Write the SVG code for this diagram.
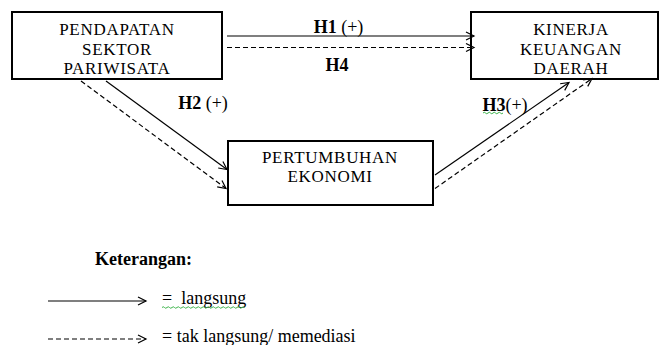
<svg xmlns="http://www.w3.org/2000/svg" width="660" height="345" viewBox="0 0 660 345">
<style>
.box{fill:#fff;stroke:#000;stroke-width:2}
.t{font-family:"Liberation Serif","Times New Roman",serif;font-size:17px;fill:#000;letter-spacing:0.7px}
.lbl{font-family:"Liberation Serif","Times New Roman",serif;font-size:18px;fill:#000;font-weight:bold}
.leg{font-family:"Liberation Serif","Times New Roman",serif;font-size:18px;fill:#000;white-space:pre}
.solid{fill:none;stroke:#000;stroke-width:1.2;marker-end:url(#arr)}
.dash{fill:none;stroke:#000;stroke-width:1.2;stroke-dasharray:5,3;marker-end:url(#arr)}
.sq{fill:none;stroke:#3cb34a;stroke-width:1}
</style>
<defs>
<marker id="arr" markerUnits="userSpaceOnUse" markerWidth="12" markerHeight="12" refX="9" refY="5" orient="auto">
<path d="M1,1 L9,5 L1,9" fill="none" stroke="#000" stroke-width="1.2"/>
</marker>
</defs>

<g id="node-pendapatan">
<rect class="box" x="12" y="12" width="210" height="67"/>
<text class="t" x="117" y="35" text-anchor="middle">PENDAPATAN</text>
<text class="t" x="117" y="54.5" text-anchor="middle">SEKTOR</text>
<text class="t" x="117" y="74" text-anchor="middle">PARIWISATA</text>
</g>

<g id="node-kinerja">
<rect class="box" x="471" y="12" width="187" height="67"/>
<text class="t" x="571" y="35" text-anchor="middle">KINERJA</text>
<text class="t" x="571" y="54.5" text-anchor="middle">KEUANGAN</text>
<text class="t" x="571" y="74" text-anchor="middle">DAERAH</text>
</g>

<g id="node-pertumbuhan">
<rect class="box" x="228" y="141" width="205" height="64"/>
<text class="t" x="330" y="163" text-anchor="middle">PERTUMBUHAN</text>
<text class="t" x="330" y="182" text-anchor="middle">EKONOMI</text>
</g>

<g id="connectors">
<line class="solid" x1="227" y1="36" x2="474" y2="36"/>
<line class="dash" x1="227" y1="47.5" x2="474" y2="47.5"/>
<line class="solid" x1="106" y1="81" x2="227" y2="169.5"/>
<line class="dash" x1="81" y1="81" x2="226" y2="188.5"/>
<line class="solid" x1="435" y1="175" x2="569" y2="82.5"/>
<line class="dash" x1="435" y1="188.5" x2="592" y2="78.5"/>
</g>

<g id="labels">
<text class="lbl" x="338.5" y="33" text-anchor="middle">H1 <tspan font-weight="normal">(+)</tspan></text>
<text class="lbl" x="337" y="71" text-anchor="middle">H4</text>
<text class="lbl" x="203" y="109" text-anchor="middle">H2 <tspan font-weight="normal">(+)</tspan></text>
<text class="lbl" x="505" y="111" text-anchor="middle">H3<tspan font-weight="normal">(+)</tspan></text>
<path class="sq" d="M483,113 q1.25,-1.5 2.5,0 t2.5,0 t2.5,0 t2.5,0 t2.5,0 t2.5,0 t2.5,0 t2.5,0"/>
</g>

<g id="legend">
<text class="lbl" x="95" y="265">Keterangan:</text>
<line class="solid" x1="48" y1="301" x2="146" y2="301"/>
<text class="leg" x="162" y="304">=  langsung</text>
<path class="sq" d="M162,307.5 q1.25,-1.5 2.5,0 t2.5,0 t2.5,0 t2.5,0 t2.5,0 t2.5,0 t2.5,0 t2.5,0 t2.5,0 t2.5,0 t2.5,0 t2.5,0 t2.5,0 t2.5,0 t2.5,0 t2.5,0 t2.5,0 t2.5,0 t2.5,0 t2.5,0 t2.5,0 t2.5,0 t2.5,0 t2.5,0 t2.5,0 t2.5,0 t2.5,0 t2.5,0 t2.5,0 t2.5,0 t2.5,0 t2.5,0 t2.5,0"/>
<line class="dash" x1="48" y1="339" x2="146" y2="339"/>
<text class="leg" x="162" y="342">= tak langsung/ memediasi</text>
</g>
</svg>
